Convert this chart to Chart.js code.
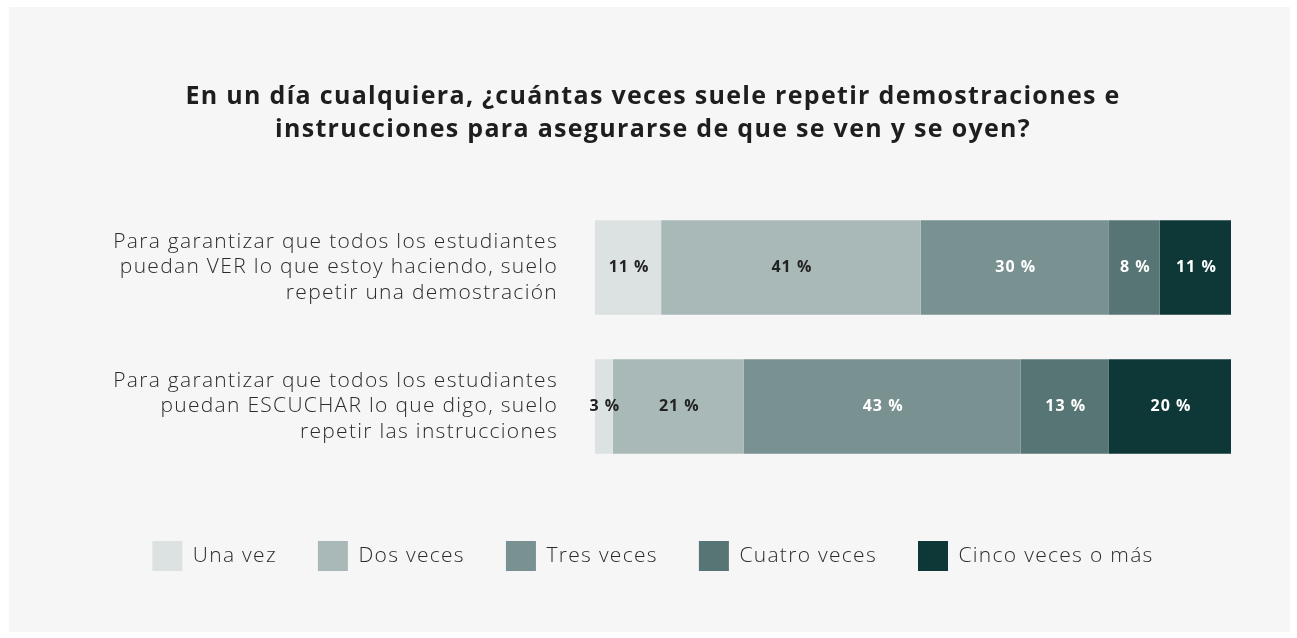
<!DOCTYPE html>
<html lang="es">
<head>
<meta charset="utf-8">
<title>Repetir demostraciones e instrucciones</title>
<script src="https://cdn.jsdelivr.net/npm/chart.js@4.4.1/dist/chart.umd.min.js"></script>
<style>
    html, body { margin: 0; padding: 0; background: #ffffff; }
    #panel {
        position: absolute;
        left: 9px; top: 7px;
        width: 1281px; height: 625px;
        background: #f6f6f6;
    }
    canvas { display: block; }
</style>
</head>
<body>
<div id="panel">
    <canvas id="repeatChart" width="1281" height="625"></canvas>
</div>

<script>
// ================================
// DATA
// ================================
const categories = [
    ["Para garantizar que todos los estudiantes", "puedan VER lo que estoy haciendo, suelo", "repetir una demostración"],
    ["Para garantizar que todos los estudiantes", "puedan ESCUCHAR lo que digo, suelo", "repetir las instrucciones"]
];
const seriesNames = ["Una vez", "Dos veces", "Tres veces", "Cuatro veces", "Cinco veces o más"];

// bar widths (share of respondents)
const unaVez      = [10.4, 2.8];
const dosVeces    = [40.8, 20.6];
const tresVeces   = [29.6, 43.5];
const cuatroVeces = [8.0, 13.9];
const cincoVeces  = [11.2, 19.2];

// printed percentages inside the bars
const unaVezPct      = [11, 3];
const dosVecesPct    = [41, 21];
const tresVecesPct   = [30, 43];
const cuatroVecesPct = [8, 13];
const cincoVecesPct  = [11, 20];

const seriesColors = ["#dce1e1", "#a9b9b8", "#7a9191", "#587575", "#0e3838"];
const labelColors  = ["#222222", "#222222", "#ffffff", "#ffffff", "#ffffff"];

const FONT = "'Open Sans', Lato, sans-serif";

// ================================
// WIDER TRACKING FOR ALL TEXT
// The original uses a wide geometric face, so space the letters out a bit.
// ================================
const wideText = {
    id: 'wideText',
    beforeLayout(chart) { chart.ctx.letterSpacing = "1.3px"; },
    beforeDraw(chart) { chart.ctx.letterSpacing = "1.3px"; }
};

// ================================
// LABELS INSIDE SEGMENTS
// ================================
const segmentLabels = {
    id: 'segmentLabels',
    afterDatasetsDraw(chart) {
        const ctx = chart.ctx;
        ctx.save();
        ctx.font = "bold 16px " + FONT;
        ctx.letterSpacing = "1px";
        ctx.textAlign = 'center';
        ctx.textBaseline = 'middle';
        chart.data.datasets.forEach((ds, i) => {
            const meta = chart.getDatasetMeta(i);
            meta.data.forEach((bar, j) => {
                const { x, y, base } = bar.getProps(['x', 'y', 'base'], true);
                ctx.fillStyle = ds.labelColor;
                ctx.fillText(ds.printed[j] + " %", (x + base) / 2 + 1, y);
            });
        });
        ctx.restore();
    }
};

const values = [unaVez, dosVeces, tresVeces, cuatroVeces, cincoVeces];
const printed = [unaVezPct, dosVecesPct, tresVecesPct, cuatroVecesPct, cincoVecesPct];

const datasets = seriesNames.map((name, i) => ({
    label: name,
    data: values[i],
    printed: printed[i],
    labelColor: labelColors[i],
    backgroundColor: seriesColors[i],
    borderWidth: 0,
    categoryPercentage: 1,
    barPercentage: 0.681
}));

// ================================
// CHART
// ================================
const ctx = document.getElementById("repeatChart").getContext("2d");
new Chart(ctx, {
    type: 'bar',
    data: { labels: categories, datasets: datasets },
    plugins: [wideText, segmentLabels],
    options: {
        indexAxis: 'y',
        responsive: false,
        animation: false,
        layout: { padding: { left: 66, right: 59, top: 0, bottom: 51 } },
        scales: {
            x: {
                stacked: true,
                min: 0,
                max: 100,
                grid: { display: false, drawTicks: false },
                border: { display: false },
                ticks: { display: false },
                afterFit: (scale) => { scale.height = 24; }
            },
            y: {
                stacked: true,
                grid: { display: false, drawTicks: false },
                border: { display: false },
                ticks: {
                    color: "#2b2b2b",
                    padding: 37,
                    font: { family: FONT, size: 21, weight: 300, lineHeight: 1.23 }
                },
                afterFit: (scale) => { scale.width = 520; }
            }
        },
        plugins: {
            title: {
                display: true,
                text: [
                    "En un día cualquiera, ¿cuántas veces suele repetir demostraciones e",
                    "instrucciones para asegurarse de que se ven y se oyen?"
                ],
                color: "#1e1e1e",
                font: { family: FONT, size: 25, weight: 'bold', lineHeight: 1.32 },
                padding: { top: 73, bottom: 52 }
            },
            legend: {
                position: 'bottom',
                labels: {
                    boxWidth: 30,
                    boxHeight: 30,
                    padding: 41,
                    color: "#2b2b2b",
                    font: { family: FONT, size: 21, weight: 300 }
                }
            },
            tooltip: { enabled: false }
        }
    }
});
</script>
</body>
</html>
